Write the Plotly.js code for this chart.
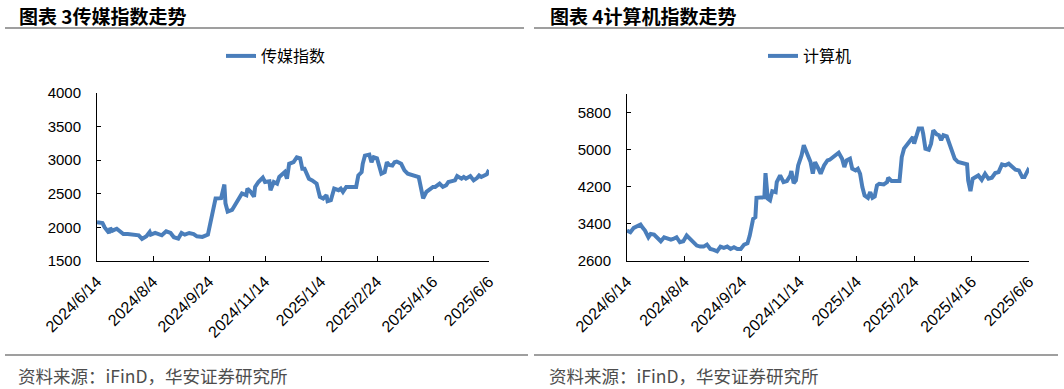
<!DOCTYPE html>
<html>
<head>
<meta charset="utf-8">
<script src="https://cdn.plot.ly/plotly-3.0.1.min.js"></script>
<style>
  html, body { margin: 0; padding: 0; background: #fff; }
  #chart { width: 1064px; height: 389px; }
</style>
</head>
<body>
<div id="chart"></div>
<script>
// ---- Data ----
const mediaName = '传媒指数';
const mediaDates = [
  '2024-06-14','2024-06-19','2024-06-21','2024-06-25','2024-06-26','2024-06-28','2024-07-02','2024-07-05','2024-07-08','2024-07-12',
  '2024-07-17','2024-07-22','2024-07-25','2024-07-29','2024-08-01','2024-08-02','2024-08-06','2024-08-09','2024-08-12','2024-08-16',
  '2024-08-20','2024-08-23','2024-08-27','2024-08-30','2024-09-02','2024-09-06','2024-09-10','2024-09-13','2024-09-18','2024-09-23',
  '2024-09-24','2024-09-26','2024-09-27','2024-09-30','2024-10-05','2024-10-08','2024-10-09','2024-10-11','2024-10-15','2024-10-18','2024-10-21',
  '2024-10-24','2024-10-28','2024-10-29','2024-11-01','2024-11-04','2024-11-05','2024-11-08','2024-11-12','2024-11-14','2024-11-18',
  '2024-11-19','2024-11-22','2024-11-25','2024-11-27','2024-11-29','2024-12-02','2024-12-04','2024-12-06','2024-12-10','2024-12-13',
  '2024-12-16','2024-12-18','2024-12-20','2024-12-24','2024-12-27','2024-12-31','2025-01-03','2025-01-06','2025-01-09','2025-01-10',
  '2025-01-13','2025-01-16','2025-01-20','2025-01-22','2025-01-24','2025-01-27','2025-02-05','2025-02-07','2025-02-10','2025-02-11',
  '2025-02-13','2025-02-17','2025-02-19','2025-02-21','2025-02-24','2025-02-26','2025-02-28','2025-03-03','2025-03-05','2025-03-07',
  '2025-03-10','2025-03-12','2025-03-14','2025-03-18','2025-03-21','2025-03-24','2025-03-27','2025-03-31','2025-04-03','2025-04-07',
  '2025-04-10','2025-04-14','2025-04-16','2025-04-18','2025-04-22','2025-04-25','2025-04-28','2025-04-30','2025-05-06','2025-05-08',
  '2025-05-12','2025-05-14','2025-05-16','2025-05-20','2025-05-23','2025-05-26','2025-05-28','2025-05-30','2025-06-04','2025-06-05',
  '2025-06-06'
];
const mediaValues = [
  2078,2064,2000,1917,1990,1951,1980,1931,1902,1902,
  1892,1882,1828,1868,1931,1892,1917,1902,1882,1941,
  1917,1853,1833,1917,1892,1917,1902,1868,1858,1892,
  1966,2162,2196,2431,2435,2637,2358,2235,2260,2333,2407,
  2505,2480,2578,2529,2456,2603,2676,2740,2676,2686,
  2554,2676,2652,2750,2774,2823,2725,2946,2970,3044,
  3029,2872,2872,2725,2700,2652,2456,2431,2480,2392,
  2407,2578,2554,2578,2529,2603,2603,2774,2823,2946,
  3068,3083,2970,3044,3029,2921,2799,2823,2970,2931,
  2921,2970,2980,2946,2848,2799,2784,2774,2750,2431,
  2529,2578,2603,2603,2652,2603,2627,2676,2700,2764,
  2725,2750,2725,2764,2700,2735,2774,2750,2790,2825,
  2810
];

const compName = '计算机';
const compDates = [
  '2024-06-14','2024-06-17','2024-06-20','2024-06-23','2024-06-26','2024-06-28','2024-06-30','2024-07-03','2024-07-05','2024-07-08',
  '2024-07-11','2024-07-14','2024-07-17','2024-07-20','2024-07-23','2024-07-25','2024-07-28','2024-07-31','2024-08-03','2024-08-06',
  '2024-08-09','2024-08-12','2024-08-15','2024-08-18','2024-08-21','2024-08-24','2024-08-27','2024-08-30','2024-09-02','2024-09-05',
  '2024-09-08','2024-09-11','2024-09-14','2024-09-17','2024-09-20','2024-09-23','2024-09-26','2024-09-29','2024-10-01','2024-10-04',
  '2024-10-06','2024-10-07','2024-10-12','2024-10-14','2024-10-15','2024-10-17','2024-10-19','2024-10-21','2024-10-24','2024-10-25',
  '2024-10-28','2024-10-31','2024-11-03','2024-11-06','2024-11-07','2024-11-09','2024-11-11','2024-11-13','2024-11-16','2024-11-18',
  '2024-11-21','2024-11-24','2024-11-26','2024-11-28','2024-12-01','2024-12-03','2024-12-06','2024-12-09','2024-12-11','2024-12-14',
  '2024-12-16','2024-12-19','2024-12-22','2024-12-24','2024-12-26','2024-12-29','2024-12-31','2025-01-03','2025-01-05','2025-01-07',
  '2025-01-09','2025-01-11','2025-01-14','2025-01-16','2025-01-18','2025-01-20','2025-01-22','2025-01-24','2025-01-28','2025-01-31',
  '2025-02-01','2025-02-04','2025-02-11','2025-02-13','2025-02-15','2025-02-17','2025-02-20','2025-02-23','2025-02-24','2025-02-26',
  '2025-02-28','2025-03-03','2025-03-04','2025-03-06','2025-03-09','2025-03-11','2025-03-13','2025-03-16','2025-03-18','2025-03-20',
  '2025-03-22','2025-03-25','2025-03-28','2025-03-30','2025-04-01','2025-04-04','2025-04-07','2025-04-12','2025-04-13','2025-04-15',
  '2025-04-17','2025-04-20','2025-04-22','2025-04-25','2025-04-28','2025-05-01','2025-05-04','2025-05-07','2025-05-10','2025-05-13',
  '2025-05-16','2025-05-19','2025-05-22','2025-05-25','2025-05-28','2025-05-31','2025-06-02','2025-06-05','2025-06-06'
];
const compValues = [
  3256,3220,3314,3357,3386,3314,3256,3112,3184,3170,
  3097,3025,3112,3076,3061,3076,3112,3004,3025,3148,
  3076,2982,2932,2910,2910,2953,2860,2838,2809,2910,
  2881,2910,2860,2896,2860,2860,2953,2982,3148,3508,
  3544,3962,3977,3977,4495,3941,3905,4106,4085,4301,
  4445,4301,4323,4445,4539,4279,4337,4661,4877,5094,
  4913,4733,4481,4733,4589,4481,4661,4769,4783,4841,
  4877,4935,4805,4625,4769,4805,4589,4553,4589,4481,
  4193,4013,3962,4085,3962,3991,4229,4265,4251,4301,
  4395,4323,4323,4841,5022,5094,5166,5274,5130,5310,
  5454,5454,5346,5022,5000,5130,5418,5332,5310,5202,
  5310,5288,5094,4986,4805,4733,4712,4683,4337,4106,
  4373,4409,4445,4351,4481,4373,4395,4495,4517,4683,
  4661,4697,4639,4568,4553,4409,4409,4553,4517
];

const titleLeft = '图表 3传媒指数走势';
const titleRight = '图表 4计算机指数走势';
const sourceText = '资料来源：iFinD，华安证券研究所';
const xRange = ['2024-06-14', '2025-06-06'];
const xTickDays = 51;
const leftYRange = [1500, 4000], leftYStep = 500;
const rightYRange = [2600, 6200], rightYStep = 800;

// ---- Layout helpers (pixel -> paper) ----
const W = 1064, H = 389;
const px = v => v / W;
const py = v => 1 - v / H;

const lineColor = '#4a7ebb';
const yTickFont = { family: 'Liberation Sans, Arial, sans-serif', size: 15, color: '#000' };
const xTickFont = { family: 'Liberation Sans, Arial, sans-serif', size: 16, color: '#000' };
const cjk = 'Noto Sans CJK SC, sans-serif';

function xAxis(domain, anchor) {
  return {
    type: 'date', domain: domain, anchor: anchor, range: xRange,
    tick0: xRange[0], dtick: xTickDays * 86400000, tickformat: '%Y/%-m/%-d',
    tickangle: -45, ticks: 'inside', ticklen: 5, tickcolor: '#000', tickwidth: 1,
    showline: true, linecolor: '#000', linewidth: 1, showgrid: false, zeroline: false,
    tickfont: xTickFont, ticklabelstandoff: 4, fixedrange: true
  };
}
function yAxis(domain, anchor, range, step) {
  return {
    domain: domain, anchor: anchor, range: range, tick0: range[0], dtick: step,
    ticks: 'inside', ticklen: 4, tickcolor: '#000', tickwidth: 1,
    showline: true, linecolor: '#000', linewidth: 1, showgrid: false, zeroline: false,
    tickfont: yTickFont, ticklabelstandoff: 12, fixedrange: true
  };
}

const traces = [
  { x: mediaDates, y: mediaValues, name: mediaName, type: 'scatter', mode: 'lines',
    xaxis: 'x', yaxis: 'y', legend: 'legend',
    line: { color: lineColor, width: 4 } },
  { x: compDates, y: compValues, name: compName, type: 'scatter', mode: 'lines',
    xaxis: 'x2', yaxis: 'y2', legend: 'legend2',
    line: { color: lineColor, width: 4 } }
];

const legendBase = {
  orientation: 'h', yanchor: 'middle', xanchor: 'left',
  font: { family: cjk, size: 16, color: '#000' },
  bgcolor: 'rgba(0,0,0,0)', itemclick: false, itemdoubleclick: false
};

const layout = {
  width: W, height: H,
  margin: { l: 0, r: 0, t: 0, b: 0 },
  paper_bgcolor: '#fff', plot_bgcolor: '#fff',
  showlegend: true,
  xaxis: xAxis([px(97), px(489)], 'y'),
  yaxis: yAxis([py(261), py(93)], 'x', leftYRange, leftYStep),
  xaxis2: xAxis([px(627), px(1029)], 'y2'),
  yaxis2: yAxis([py(261), py(94)], 'x2', rightYRange, rightYStep),
  legend: Object.assign({}, legendBase, { x: px(221), y: py(56) }),
  legend2: Object.assign({}, legendBase, { x: px(763), y: py(56) }),
  shapes: [
    { type: 'line', xref: 'paper', yref: 'paper', x0: px(5), x1: px(524), y0: py(28), y1: py(28), line: { color: '#7f7f7f', width: 1.5 } },
    { type: 'line', xref: 'paper', yref: 'paper', x0: px(534), x1: px(1064), y0: py(28), y1: py(28), line: { color: '#7f7f7f', width: 1.5 } },
    { type: 'line', xref: 'paper', yref: 'paper', x0: px(5), x1: px(528), y0: py(355), y1: py(355), line: { color: '#7f7f7f', width: 1.5 } },
    { type: 'line', xref: 'paper', yref: 'paper', x0: px(534), x1: px(1058), y0: py(355), y1: py(355), line: { color: '#7f7f7f', width: 1.5 } }
  ],
  annotations: [
    { text: '<b>' + titleLeft + '</b>', xref: 'paper', yref: 'paper', x: px(17), y: py(15), xanchor: 'left', yanchor: 'middle', showarrow: false, font: { family: cjk, size: 19, color: '#000' } },
    { text: '<b>' + titleRight + '</b>', xref: 'paper', yref: 'paper', x: px(548), y: py(15), xanchor: 'left', yanchor: 'middle', showarrow: false, font: { family: cjk, size: 19, color: '#000' } },
    { text: sourceText, xref: 'paper', yref: 'paper', x: px(16), y: py(375), xanchor: 'left', yanchor: 'middle', showarrow: false, font: { family: cjk, size: 17.5, color: '#4d4d4d' } },
    { text: sourceText, xref: 'paper', yref: 'paper', x: px(547), y: py(375), xanchor: 'left', yanchor: 'middle', showarrow: false, font: { family: cjk, size: 17.5, color: '#4d4d4d' } }
  ]
};

Plotly.newPlot('chart', traces, layout, { displayModeBar: false, staticPlot: true });
</script>
</body>
</html>
